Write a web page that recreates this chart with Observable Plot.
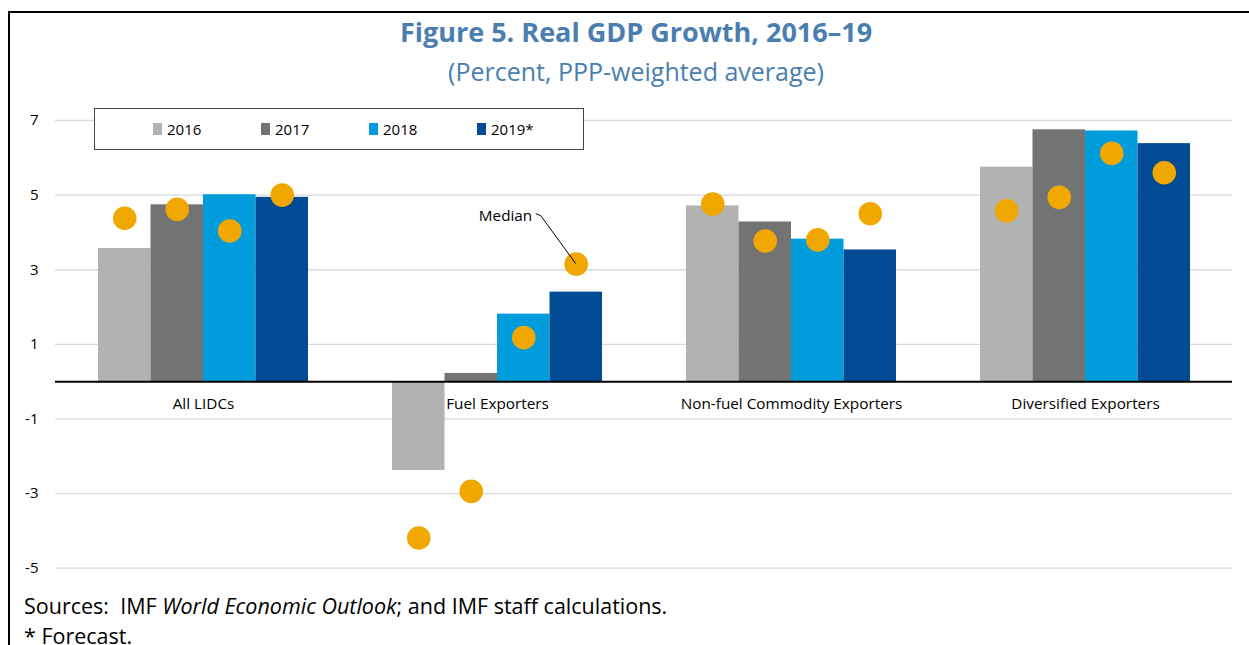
<!DOCTYPE html>
<html>
<head>
<meta charset="utf-8">
<script src="https://cdn.jsdelivr.net/npm/d3@7"></script>
<script src="https://cdn.jsdelivr.net/npm/@observablehq/plot@0.6"></script>
<style>
  html, body { margin: 0; padding: 0; background: #fff; overflow: hidden; }
  body { width: 1249px; height: 645px; position: relative; font-family: "Open Sans", sans-serif; }
  #frame { position: absolute; left: 8px; top: 11px; width: 1260px; height: 700px; border-left: 2px solid #000; border-top: 2px solid #000; box-sizing: border-box; }
  #title { position: absolute; left: 0; width: 1272px; top: 13px; text-align: center; font-weight: 700; font-size: 27px; color: #4a7eae; line-height: 38px; }
  #subtitle { position: absolute; left: 0; width: 1272px; top: 53px; text-align: center; font-size: 25px; color: #4a7eae; line-height: 36px; }
  #chart { position: absolute; left: 0; top: 95px; }
  #legend { position: absolute; left: 94px; top: 108px; width: 490px; height: 42px; border: 1px solid #444; box-sizing: border-box; background: #fff; }
  .item { position: absolute; top: 0; height: 40px; display: flex; align-items: center; font-size: 15px; color: #000; }
  .sw { width: 9px; height: 12px; margin-right: 5px; }
  #caption { position: absolute; left: 24px; top: 591px; font-size: 21.5px; line-height: 30px; color: #000; white-space: nowrap; }
</style>
</head>
<body>
<div id="frame"></div>
<div id="title">Figure 5. Real GDP Growth, 2016–19</div>
<div id="subtitle">(Percent, PPP-weighted average)</div>
<div id="chart"></div>
<div id="legend"></div>
<div id="caption">Sources:&nbsp; IMF <i>World Economic Outlook</i>; and IMF staff calculations.<br>* Forecast.</div>
<script>
// ---- data ----
const categories = ["All LIDCs", "Fuel Exporters", "Non-fuel Commodity Exporters", "Diversified Exporters"];
const years = ["2016", "2017", "2018", "2019*"];
const growth2016 = [3.57, -2.38, 4.71, 5.75];
const growth2017 = [4.74, 0.22, 4.28, 6.75];
const growth2018 = [5.01, 1.81, 3.82, 6.72];
const growth2019 = [4.94, 2.40, 3.53, 6.38];
const median2016 = [4.38, -4.19, 4.76, 4.58];
const median2017 = [4.62, -2.94, 3.77, 4.94];
const median2018 = [4.04, 1.18, 3.80, 6.12];
const median2019 = [5.00, 3.15, 4.50, 5.60];
const yTicks = [-5, -3, -1, 1, 3, 5, 7];
const yearColors = ["#b1b2b1", "#727372", "#009cdc", "#004b93"];
const medianColor = "#f0a800";

const growth = [growth2016, growth2017, growth2018, growth2019];
const medians = [median2016, median2017, median2018, median2019];
const rows = [];
years.forEach((yr, i) => categories.forEach((c, j) => rows.push({category: c, year: yr, yi: i, value: growth[i][j], median: medians[i][j]})));

// ---- layout ----
const W = 1249, H = 500, mL = 55, mR = 17, mT = 25, mB = 27.3;
const pInner = 0.2863, pOuter = pInner / 2;
const step = (W - mL - mR) / (categories.length - pInner + 2 * pOuter);
const bw = step * (1 - pInner);
const sub = bw / years.length;

const marks = [
  Plot.ruleY(yTicks, {stroke: "#d9d9d9", strokeWidth: 1.3})
];
years.forEach((yr, i) => {
  marks.push(Plot.barY(rows.filter(d => d.yi === i), {
    x: "category", y: "value", fill: yearColors[i],
    insetLeft: i * sub, insetRight: (years.length - 1 - i) * sub
  }));
});
marks.push(Plot.ruleY([0], {stroke: "#000", strokeWidth: 2}));
years.forEach((yr, i) => {
  marks.push(Plot.dot(rows.filter(d => d.yi === i), {
    x: "category", y: "median", dx: (i - 1.5) * sub, r: 11.8, fill: medianColor, stroke: "none"
  }));
});
marks.push(Plot.text(categories, {x: d => d, y: () => 0, dy: 22, fontSize: 15.3, fill: "#000"}));
const medAnchor = rows.filter(d => d.category === "Fuel Exporters" && d.yi === 3);
marks.push(Plot.text(medAnchor, {x: "category", y: "median", dx: 1.5 * sub - 44, dy: -48, text: () => "Median", textAnchor: "end", fontSize: 15.3, fill: "#000"}));

const plot = Plot.plot({
  width: W, height: H,
  marginLeft: mL, marginRight: mR, marginTop: mT, marginBottom: mB,
  style: {fontFamily: "Open Sans, sans-serif", fontSize: "15px", color: "#000", background: "transparent", overflow: "visible"},
  x: {domain: categories, paddingInner: pInner, paddingOuter: pOuter, axis: null},
  y: {domain: [-5, 7], ticks: yTicks, tickSize: 0, tickPadding: 17, label: null, grid: false, tickFormat: d => String(d)},
  marks
});
document.getElementById("chart").appendChild(plot);

// annotation leader line using the plot's scales
const xs = plot.scale("x"), ys = plot.scale("y");
const a = medAnchor[0];
const px = xs.apply(a.category) + bw / 2 + 1.5 * sub;
const py = ys.apply(a.median);
d3.select(plot).append("path")
  .attr("d", `M${px},${py} L${px - 35},${py - 48} L${px - 40},${py - 50}`)
  .attr("fill", "none").attr("stroke", "#000").attr("stroke-width", 1);

// legend
const lg = document.getElementById("legend");
years.forEach((yr, i) => {
  const it = document.createElement("div");
  it.className = "item";
  it.style.left = (58 + i * 108) + "px";
  it.innerHTML = `<span class="sw" style="background:${yearColors[i]}"></span><span>${yr}</span>`;
  lg.appendChild(it);
});
</script>
</body>
</html>
